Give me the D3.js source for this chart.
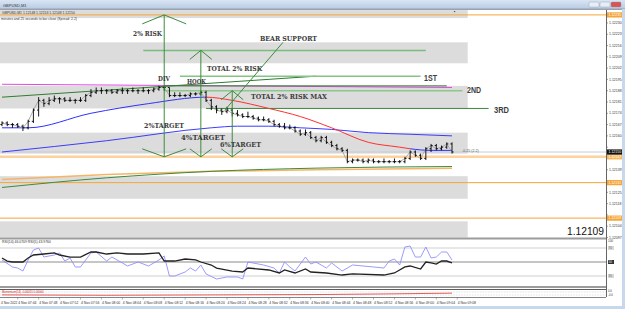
<!DOCTYPE html>
<html>
<head>
<meta charset="utf-8">
<script src="https://cdn.jsdelivr.net/npm/d3@7"></script>
<style>
  body { margin: 0; background: #fff; }
  svg { display: block; }
</style>
</head>
<body>
<svg id="chart" width="625" height="309"></svg>
<script>
// GBPUSD M1 bars, bar 0 = 07:41
const opens = [1.12167,1.12168,1.12167,1.12167,1.12166,1.12165,1.12169,1.12176,1.12182,1.12180,
  1.12182,1.12183,1.12183,1.12182,1.12182,1.12182,1.12182,1.12185,1.12187,1.12188,
  1.12188,1.12188,1.12187,1.12188,1.12188,1.12188,1.12188,1.12188,1.12188,1.12188,
  1.12189,1.12190,1.12190,1.12185,1.12185,1.12185,1.12185,1.12186,1.12186,1.12187,
  1.12182,1.12178,1.12176,1.12175,1.12176,1.12174,1.12173,1.12172,1.12172,1.12171,
  1.12170,1.12170,1.12169,1.12167,1.12166,1.12165,1.12165,1.12163,1.12161,1.12162,
  1.12159,1.12157,1.12159,1.12156,1.12154,1.12152,1.12151,1.12144,1.12145,1.12145,
  1.12144,1.12145,1.12144,1.12144,1.12144,1.12144,1.12144,1.12144,1.12146,1.12150,
  1.12148,1.12146,1.12152,1.12154,1.12152,1.12153,1.12155];
const highs = [1.12169,1.12169,1.12168,1.12168,1.12167,1.12170,1.12177,1.12184,1.12183,1.12184,
  1.12185,1.12184,1.12184,1.12184,1.12183,1.12184,1.12186,1.12189,1.12190,1.12190,
  1.12189,1.12189,1.12189,1.12190,1.12189,1.12190,1.12189,1.12190,1.12189,1.12190,
  1.12191,1.12191,1.12190,1.12187,1.12187,1.12186,1.12187,1.12187,1.12188,1.12188,
  1.12183,1.12179,1.12177,1.12178,1.12177,1.12176,1.12174,1.12175,1.12173,1.12172,
  1.12172,1.12171,1.12170,1.12168,1.12168,1.12167,1.12166,1.12164,1.12164,1.12163,
  1.12160,1.12160,1.12160,1.12157,1.12155,1.12153,1.12152,1.12146,1.12146,1.12146,
  1.12146,1.12146,1.12145,1.12146,1.12145,1.12146,1.12145,1.12147,1.12151,1.12151,
  1.12149,1.12153,1.12155,1.12155,1.12154,1.12156,1.12156];
const lows = [1.12166,1.12166,1.12165,1.12165,1.12163,1.12164,1.12168,1.12172,1.12178,1.12179,
  1.12181,1.12180,1.12181,1.12181,1.12180,1.12181,1.12181,1.12184,1.12186,1.12186,
  1.12186,1.12186,1.12186,1.12186,1.12186,1.12187,1.12186,1.12187,1.12186,1.12187,
  1.12188,1.12188,1.12184,1.12184,1.12184,1.12184,1.12184,1.12185,1.12185,1.12181,
  1.12176,1.12174,1.12173,1.12174,1.12172,1.12172,1.12171,1.12171,1.12170,1.12169,
  1.12169,1.12168,1.12166,1.12165,1.12164,1.12164,1.12162,1.12160,1.12160,1.12158,
  1.12156,1.12156,1.12155,1.12153,1.12151,1.12150,1.12143,1.12143,1.12144,1.12143,
  1.12143,1.12143,1.12143,1.12143,1.12143,1.12143,1.12143,1.12143,1.12145,1.12147,
  1.12145,1.12145,1.12150,1.12151,1.12151,1.12152,1.12149];
const closes = [1.12168,1.12167,1.12167,1.12166,1.12165,1.12169,1.12176,1.12182,1.12180,1.12182,
  1.12183,1.12183,1.12182,1.12182,1.12182,1.12182,1.12185,1.12187,1.12188,1.12188,
  1.12188,1.12187,1.12188,1.12188,1.12188,1.12188,1.12188,1.12188,1.12188,1.12189,
  1.12190,1.12190,1.12185,1.12185,1.12185,1.12185,1.12186,1.12186,1.12187,1.12182,
  1.12178,1.12176,1.12175,1.12176,1.12174,1.12173,1.12172,1.12172,1.12171,1.12170,
  1.12170,1.12169,1.12167,1.12166,1.12165,1.12165,1.12163,1.12161,1.12162,1.12159,
  1.12157,1.12159,1.12156,1.12154,1.12152,1.12151,1.12144,1.12145,1.12145,1.12144,
  1.12145,1.12144,1.12144,1.12144,1.12144,1.12144,1.12144,1.12146,1.12150,1.12148,
  1.12146,1.12152,1.12154,1.12152,1.12153,1.12155,1.12150];

// moving averages (bar index, price)
const fastMaBars = [0, 5, 17, 28, 39, 44, 51, 57, 63, 70, 76, 78, 82, 86];
const fastMaVals = [1.12165, 1.12165, 1.12174, 1.12180, 1.12184, 1.12182, 1.12177, 1.12172, 1.12165, 1.12156, 1.12153, 1.12152, 1.12151, 1.12151];
const fastMaFalling = [39, 78];
const slowMaBars = [0, 20, 40, 45, 51, 57, 63, 70, 78, 86];
const slowMaVals = [1.12150, 1.12157, 1.12165, 1.12166, 1.12166, 1.12165, 1.12164, 1.12162, 1.12161, 1.12160];
const greenMaBars = [0, 20, 40, 60, 86];
const greenMaVals = [1.12128, 1.12134, 1.12138, 1.12140, 1.12141];
const orangeMaBars = [0, 20, 40, 60, 86];
const orangeMaVals = [1.12133, 1.12136, 1.12138, 1.12139, 1.12140];

// zones and horizontal levels
const zoneTops = [1.12238, 1.12218, 1.12191, 1.12162, 1.12135, 1.12107];
const zoneBottoms = [1.12233, 1.12205, 1.12177, 1.12149, 1.12121, 1.12097];
const zoneEndBar = 89;
const orangeLevels = [1.12235, 1.12131, 1.12109];
const peachLevel = 1.12147;
const bidPrice = 1.12150;

// drawn lines: [bar1, price1, bar2, price2]
const riskTopLine = [27, 1.12213, 81, 1.12213];
const firstLine = [34, 1.12197, 80, 1.12197];
const hookLine = [31, 1.12191, 85, 1.12191];
const secondLine = [31, 1.12188, 88, 1.12188];
const thirdLine = [39, 1.12177, 93, 1.12177];
const trendLine = [0, 1.12184, 60, 1.12197];
const magentaLine = [0, 1.12192, 86, 1.12190];
const bearSupport = [53.7, 1.12218, 42.6, 1.12176];

// vertical arrows: bar, top price, bottom price
const arrowBars = [31, 38, 44];
const arrowTops = [1.12235, 1.12213, 1.12188];
const arrowBottoms = [1.12147, 1.12147, 1.12147];

// axes
const priceTicks = [1.12230, 1.12223, 1.12216, 1.12209, 1.12202, 1.12195, 1.12188, 1.12181, 1.12174,
  1.12167, 1.12160, 1.12153, 1.12139, 1.12132, 1.12125, 1.12118, 1.12111, 1.12104, 1.12097];
const timeBars = [3, 7, 11, 15, 19, 23, 27, 31, 35, 39, 43, 47, 51, 55, 59, 63, 67, 71, 75, 79, 83, 87];
const timeLabels = ["07:44", "07:48", "07:52", "07:56", "08:00", "08:04", "08:08", "08:12", "08:16", "08:20",
  "08:24", "08:28", "08:32", "08:36", "08:40", "08:44", "08:48", "08:52", "08:56", "09:00", "09:04", "09:08"];

// oscillator samples (bar, value)
const rsiSlowBars = [0, 1, 2, 4, 5, 6, 8, 10, 11, 13, 15, 17, 18, 20, 22, 24, 27, 30, 31, 33, 35, 37, 38, 40, 41,
  44, 46, 47, 51, 53, 54, 56, 58, 59, 62, 65, 67, 73, 75, 77, 78, 80, 81, 82, 83, 84, 85, 86];
const rsiSlowVals = [55.7, 51.4, 50, 50, 55.7, 60, 61.4, 62.9, 60, 57.1, 57.1, 64.3, 64.3, 61.4, 62.9, 61.4, 61.4,
  62.9, 51.4, 51.4, 54.3, 52.9, 50, 45.7, 41.4, 37.1, 35.7, 41.4, 38.6, 34.3, 38.6, 34.3, 40, 35.7, 34.3, 31.4,
  32.9, 31.4, 34.3, 42.9, 44.3, 40, 50, 48.6, 47.1, 51.4, 51.4, 48.6];
const rsiFastBars = [0, 2, 3, 4, 5, 6, 7, 8, 10, 11, 12, 13, 14, 15, 17, 18, 20, 21, 23, 24, 26, 28, 30, 31, 32,
  33, 35, 36, 37, 38, 39, 41, 43, 45, 46, 47, 50, 52, 53, 54, 55, 56, 58, 59, 60, 62, 63, 65, 67, 69, 71, 73,
  74, 75, 76, 77, 78, 79, 80, 81, 82, 83, 84, 85, 86];
const rsiFastVals = [52.9, 42.9, 41.4, 37.1, 52.9, 67.1, 70, 57.1, 60, 62.9, 51.4, 55.7, 42.9, 42.9, 62.9, 64.3,
  51.4, 57.1, 48.6, 44.3, 50, 44.3, 52.9, 58.6, 30, 30, 35.7, 41.4, 37.1, 45.7, 32.9, 25.7, 28.6, 28.6, 25.7,
  50, 45.7, 41.4, 34.3, 50, 42.9, 37.1, 57.1, 47.1, 50, 41.4, 48.6, 37.1, 45.7, 44.3, 42.9, 41.4, 51.4, 54.3,
  45.7, 71.4, 72.9, 57.1, 57.1, 71.4, 55.7, 57.1, 64.3, 64.3, 52.9];
const rsiLevels = [70, 50, 30];
const momBars = [0, 20, 40, 60, 86];
const momVals = [-0.4, -0.5, -0.4, -0.3, 0.1];

const svg = d3.select("#chart");
const plotRight = 606;

const x = d3.scaleLinear().domain([0, 86]).range([2, 452]);
const y = d3.scaleLinear().domain([1.1209544, 1.1223804]).range([240, 10]);
const yRsi = d3.scaleLinear().domain([30, 70]).range([276, 248]);
const yMom = d3.scaleLinear().domain([-1, 1]).range([297, 290]);

const defs = svg.append("defs");
const grad = defs.append("linearGradient").attr("id", "titleGrad")
    .attr("x1", 0).attr("y1", 0).attr("x2", 0).attr("y2", 1);
grad.append("stop").attr("offset", "0%").attr("stop-color", "#d9e5f4");
grad.append("stop").attr("offset", "100%").attr("stop-color", "#b7cbe4");

defs.append("clipPath").attr("id", "mainClip")
  .append("rect").attr("x", 0).attr("y", 10).attr("width", plotRight).attr("height", 228);

// window chrome
svg.append("rect").attr("width", 625).attr("height", 309).attr("fill", "#fff");
svg.append("rect").attr("width", 625).attr("height", 9).attr("fill", "url(#titleGrad)");
svg.append("rect").attr("y", 8.5).attr("width", 625).attr("height", 1.5).attr("fill", "#9aa3ad");
svg.append("text").attr("x", 3).attr("y", 6.5)
    .style("font", "4px 'Liberation Sans'").attr("fill", "#333").text("GBPUSD,M1");
[[589, "#e8eef6"], [600, "#e8eef6"], [611, "#d9534f"]].forEach(([bx, c]) => {
  svg.append("rect").attr("x", bx).attr("y", 2).attr("width", 10).attr("height", 5)
      .attr("rx", 1).attr("fill", c).attr("stroke", "#8a9bb0").attr("stroke-width", 0.4);
});

const main = svg.append("g").attr("clip-path", "url(#mainClip)");

// grey zones
zoneTops.forEach((top, i) => {
  main.append("rect")
      .attr("x", 0).attr("y", y(top))
      .attr("width", x(zoneEndBar)).attr("height", y(zoneBottoms[i]) - y(top))
      .attr("fill", "#dcdcdc");
});

// header info
main.append("text").attr("x", 2).attr("y", 13.5)
    .style("font", "3.4px 'Liberation Sans'").attr("fill", "#333")
    .text("GBPUSD,M1  1.12148 1.12153 1.12148 1.12150");
main.append("text").attr("x", 1).attr("y", 19.5)
    .style("font", "3.4px 'Liberation Sans'").attr("fill", "#333")
    .text("minutes and 25 seconds to bar close (Spread: 2.2)");
main.append("path").attr("d", `M${x(86.3)},11 l2,0 l-1,1.5z`).attr("fill", "#555");

// horizontal levels
main.append("line").attr("x1", 0).attr("x2", plotRight)
    .attr("y1", y(peachLevel)).attr("y2", y(peachLevel))
    .attr("stroke", "#fdd29c").attr("stroke-width", 2.5);
main.append("line").attr("x1", 0).attr("x2", plotRight)
    .attr("y1", y(bidPrice)).attr("y2", y(bidPrice))
    .attr("stroke", "#c4ccd8").attr("stroke-width", 1);
orangeLevels.forEach(p => {
  main.append("line").attr("x1", 0).attr("x2", plotRight)
      .attr("y1", y(p)).attr("y2", y(p))
      .attr("stroke", "#f5a53a").attr("stroke-width", 1);
});

// straight drawn lines
function seg(d, color, w) {
  main.append("line")
      .attr("x1", x(d[0])).attr("y1", y(d[1]))
      .attr("x2", x(d[2])).attr("y2", y(d[3]))
      .attr("stroke", color).attr("stroke-width", w);
}
seg(riskTopLine, "#7dbb7d", 1.5);
seg(magentaLine, "#e04ae0", 1);
seg(trendLine, "#2f7d32", 1);
seg(firstLine, "#86c386", 1.5);
seg(hookLine, "#2f7d32", 1);
seg(secondLine, "#8cc88c", 1.5);
seg(thirdLine, "#3a8a3a", 1);

// moving averages
const maLine = d3.line().x(d => x(d[0])).y(d => y(d[1])).curve(d3.curveMonotoneX);
const zipMa = (bars, vals) => bars.map((b, i) => [b, vals[i]]);

main.append("path").datum(zipMa(orangeMaBars, orangeMaVals))
    .attr("d", maLine).attr("fill", "none").attr("stroke", "#f7b465").attr("stroke-width", 1.5);
main.append("path").datum(zipMa(greenMaBars, greenMaVals))
    .attr("d", maLine).attr("fill", "none").attr("stroke", "#3d8b3d").attr("stroke-width", 1);
main.append("path").datum(zipMa(slowMaBars, slowMaVals))
    .attr("d", maLine).attr("fill", "none").attr("stroke", "#3b3bff").attr("stroke-width", 1);

// fast MA: blue while rising, red while falling
const fastData = zipMa(fastMaBars, fastMaVals);
const fastParts = [[0, fastMaFalling[0], "#3030ff"], [fastMaFalling[0], fastMaFalling[1], "#ff3030"], [fastMaFalling[1], 86, "#3030ff"]];
fastParts.forEach(([a, b, color], i) => {
  defs.append("clipPath").attr("id", "fast" + i)
    .append("rect").attr("x", x(a)).attr("y", 0).attr("width", x(b) - x(a)).attr("height", 309);
  main.append("g").attr("clip-path", `url(#fast${i})`)
    .append("path").datum(fastData)
      .attr("d", maLine).attr("fill", "none").attr("stroke", color).attr("stroke-width", 1);
});

// close line and OHLC bars
const bars = closes.map((c, i) => ({ i, o: opens[i], h: highs[i], l: lows[i], c }));
main.append("path").datum(bars)
    .attr("d", d3.line().x(d => x(d.i)).y(d => y(d.c)))
    .attr("fill", "none").attr("stroke", "#9a9a9a").attr("stroke-width", 0.8);
const barG = main.append("g").attr("stroke", "#000").attr("stroke-width", 0.9);
barG.selectAll("path.bar").data(bars).join("path")
    .attr("class", "bar")
    .attr("d", d => `M${x(d.i)},${y(d.h)}V${y(d.l)}M${x(d.i) - 1.6},${y(d.o)}H${x(d.i)}M${x(d.i)},${y(d.c)}H${x(d.i) + 1.6}`);

// bear support diagonal
seg(bearSupport, "#3d8b3d", 1);

// vertical arrows
arrowBars.forEach((b, i) => {
  const ax = x(b), top = y(arrowTops[i]), bot = y(arrowBottoms[i]);
  const half = i === 0 ? 22 : 11;
  main.append("path")
      .attr("d", `M${ax},${top}V${bot}M${ax - half},${top + 9}L${ax},${top}L${ax + half},${top + 9}` +
                 `M${ax - half},${bot - 8}L${ax},${bot}L${ax + half},${bot - 8}`)
      .attr("fill", "none").attr("stroke", "#3d8b3d").attr("stroke-width", 1);
});

// annotation texts
const notes = [
  ["2% RISK", 133, 35.5, 29, "serif"], ["BEAR SUPPORT", 260, 41, 57, "serif"],
  ["TOTAL 2% RISK", 207, 71, 55, "serif"], ["DIV", 158, 81, 12, "serif"],
  ["HOOK", 187, 84, 19, "serif"], ["TOTAL 2% RISK MAX", 251, 99, 76, "serif"],
  ["2%TARGET", 144, 127.5, 40, "serif"], ["4%TARGET", 181, 140, 44, "serif"],
  ["6%TARGET", 220, 147, 41, "serif"],
  ["1ST", 424, 81, 13, "sans"], ["2ND", 467, 93, 14, "sans"], ["3RD", 494, 112.5, 15, "sans"]
];
notes.forEach(([t, tx, ty, tw, kind]) => {
  main.append("text").attr("x", tx).attr("y", ty)
      .attr("textLength", tw).attr("lengthAdjust", "spacingAndGlyphs")
      .style("font-family", kind === "serif" ? "'DejaVu Serif'" : "'Liberation Sans'")
      .style("font-weight", "bold").style("font-size", kind === "serif" ? "8px" : "8.5px")
      .attr("fill", "#3c3c3c").text(t);
});
main.append("text").attr("x", 462).attr("y", y(bidPrice) - 0.5)
    .style("font", "3.6px 'Liberation Sans'").attr("fill", "#555").text("-0.25 (2.2)");
main.append("text").attr("x", 604).attr("y", 234.5).attr("text-anchor", "end")
    .attr("textLength", 37).attr("lengthAdjust", "spacingAndGlyphs")
    .style("font", "10px 'Liberation Sans'").attr("fill", "#111").text("1.12109");

// price axis; ticks hidden where a price tag sits
const tagPrices = orangeLevels.concat([peachLevel, bidPrice]);
svg.append("line").attr("x1", plotRight + 0.5).attr("x2", plotRight + 0.5).attr("y1", 10).attr("y2", 297)
    .attr("stroke", "#666").attr("stroke-width", 1);
priceTicks.forEach(p => {
  svg.append("line").attr("x1", plotRight).attr("x2", plotRight + 2).attr("y1", y(p)).attr("y2", y(p))
      .attr("stroke", "#666").attr("stroke-width", 0.6);
  if (tagPrices.some(t => Math.abs(y(t) - y(p)) < 5)) return;
  svg.append("text").attr("x", plotRight + 3).attr("y", y(p) + 1.2)
      .style("font", "3.5px 'Liberation Sans'").attr("fill", "#333").text(p.toFixed(5));
});
function priceTag(p, bg, fg) {
  svg.append("rect").attr("x", plotRight + 1).attr("y", y(p) - 2.6).attr("width", 15).attr("height", 5.2).attr("fill", bg);
  svg.append("text").attr("x", plotRight + 2.5).attr("y", y(p) + 1.3)
      .style("font", "3.5px 'Liberation Sans'").attr("fill", fg).text(p.toFixed(5));
}
orangeLevels.forEach(p => priceTag(p, "#f5a53a", "#fff"));
priceTag(peachLevel, "#f8b860", "#fff");
priceTag(bidPrice, "#111", "#fff");

// separators
svg.append("rect").attr("x", 0).attr("y", 237.5).attr("width", plotRight).attr("height", 2).attr("fill", "#9c9c9c");
svg.append("rect").attr("x", 0).attr("y", 286).attr("width", plotRight).attr("height", 2).attr("fill", "#9c9c9c");
svg.append("line").attr("x1", 0).attr("x2", plotRight).attr("y1", 289.5).attr("y2", 289.5).attr("stroke", "#333").attr("stroke-width", 0.8);

// oscillator panel
svg.append("text").attr("x", 2).attr("y", 243)
    .style("font", "3.4px 'Liberation Sans'").attr("fill", "#333")
    .text("RSI(14) 46.0709   RSI(5) 43.9760");
rsiLevels.forEach((lv, i) => {
  svg.append("line").attr("x1", 0).attr("x2", plotRight).attr("y1", yRsi(lv)).attr("y2", yRsi(lv))
      .attr("stroke", i === 1 ? "#8c8c8c" : "#cfcfcf").attr("stroke-width", 1);
  svg.append("rect").attr("x", plotRight + 2).attr("y", yRsi(lv) - 2).attr("width", 6).attr("height", 4)
      .attr("fill", i === 1 ? "#333" : "#d8d8d8");
  svg.append("text").attr("x", plotRight + 2.6).attr("y", yRsi(lv) + 1.2)
      .style("font", "3px 'Liberation Sans'").attr("fill", i === 1 ? "#fff" : "#666").text(lv);
});
svg.append("text").attr("x", plotRight + 2).attr("y", 242)
    .style("font", "3px 'Liberation Sans'").attr("fill", "#333").text("100");
const rsiLine = d3.line().x(d => x(d[0])).y(d => yRsi(d[1]));
svg.append("path").datum(zipMa(rsiFastBars, rsiFastVals))
    .attr("d", rsiLine).attr("fill", "none").attr("stroke", "#8f8fff").attr("stroke-width", 0.9);
svg.append("path").datum(zipMa(rsiSlowBars, rsiSlowVals))
    .attr("d", rsiLine).attr("fill", "none").attr("stroke", "#222").attr("stroke-width", 1.3);

// momentum panel
[292, 295].forEach(ly => {
  svg.append("line").attr("x1", 0).attr("x2", plotRight).attr("y1", ly).attr("y2", ly)
      .attr("stroke", "#c4c4c4").attr("stroke-width", 0.6).attr("stroke-dasharray", "0.8,0.8");
});
svg.append("path").datum(zipMa(momBars, momVals))
    .attr("d", d3.line().x(d => x(d[0])).y(d => yMom(d[1])).curve(d3.curveMonotoneX))
    .attr("fill", "none").attr("stroke", "#e03030").attr("stroke-width", 0.8);
svg.append("text").attr("x", 2).attr("y", 292.6)
    .style("font", "2.8px 'Liberation Sans'").attr("fill", "#d02020")
    .text("Momentum(14) -0.00051  0.00000");
["0.0", "-0.0"].forEach((t, i) => {
  svg.append("text").attr("x", plotRight + 2).attr("y", 292 + i * 3.5)
      .style("font", "2.8px 'Liberation Sans'").attr("fill", "#333").text(t);
});

// time axis
svg.append("line").attr("x1", 0).attr("x2", plotRight).attr("y1", 297.5).attr("y2", 297.5)
    .attr("stroke", "#666").attr("stroke-width", 0.8);
svg.append("text").attr("x", 1).attr("y", 304)
    .style("font", "3.2px 'Liberation Sans'").attr("fill", "#333").text("4 Nov 2022");
timeBars.forEach((b, i) => {
  svg.append("line").attr("x1", x(b)).attr("x2", x(b)).attr("y1", 297.5).attr("y2", 299.5)
      .attr("stroke", "#666").attr("stroke-width", 0.5);
  svg.append("text").attr("x", x(b) + 0.5).attr("y", 304)
      .style("font", "3.4px 'Liberation Sans'").attr("fill", "#333").text("4 Nov " + timeLabels[i]);
});

// frame
svg.append("rect").attr("x", 622).attr("y", 9).attr("width", 3).attr("height", 300).attr("fill", "#c7d7ec");
svg.append("rect").attr("x", 0).attr("y", 306).attr("width", 625).attr("height", 3).attr("fill", "#c7d7ec");
</script>
</body>
</html>
